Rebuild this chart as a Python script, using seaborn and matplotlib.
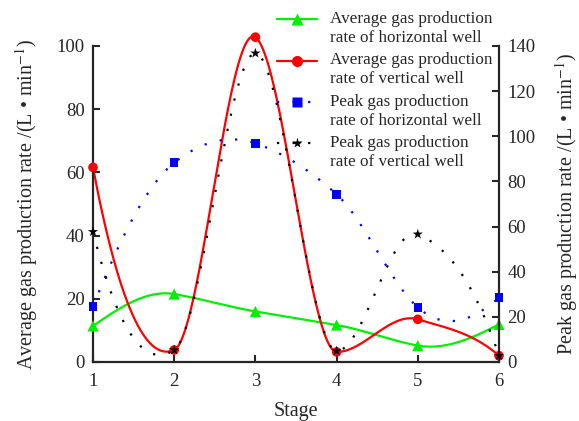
import numpy as np
import pandas as pd
import matplotlib
matplotlib.use("Agg")
import matplotlib.pyplot as plt
from matplotlib.lines import Line2D
from matplotlib.legend_handler import HandlerLine2D
import seaborn as sns

# ---- data ----
stages = [1, 2, 3, 4, 5, 6]
avg_horizontal = [11.4, 21.5, 16.0, 11.7, 5.2, 11.9]
avg_vertical = [61.6, 3.8, 102.8, 3.2, 13.5, 2.0]
peak_horizontal = [24.5, 88.3, 96.9, 74.3, 24.2, 28.5]
peak_vertical = [57.7, 5.3, 136.8, 4.9, 56.6, 2.8]

labels = ["Average gas production\nrate of horizontal well",
          "Average gas production\nrate of vertical well",
          "Peak gas production\nrate of horizontal well",
          "Peak gas production\nrate of vertical well"]

GREEN, RED, BLUE, BLACK = "#00f000", "#ff0000", "#0000ff", "#000000"


def akima(x, y, xs):
    """Akima spline through the points (smooth connecting line)."""
    x = np.asarray(x, float); y = np.asarray(y, float)
    n = len(x)
    m = np.diff(y) / np.diff(x)
    mm = np.empty(n + 3)
    mm[2:-2] = m
    mm[1] = 2 * mm[2] - mm[3]
    mm[0] = 2 * mm[1] - mm[2]
    mm[-2] = 2 * mm[-3] - mm[-4]
    mm[-1] = 2 * mm[-2] - mm[-3]
    dm = np.abs(np.diff(mm))
    f1 = dm[2:]
    f2 = dm[:-2]
    ml = mm[1:-2]
    mr = mm[2:-1]
    den = f1 + f2
    t = np.where(den > 1e-12, (f1 * ml + f2 * mr) / np.where(den > 1e-12, den, 1),
                 (ml + mr) / 2)
    idx = np.clip(np.searchsorted(x, xs, side="right") - 1, 0, n - 2)
    h = x[idx + 1] - x[idx]
    s = (xs - x[idx]) / h
    h00 = 2 * s ** 3 - 3 * s ** 2 + 1
    h10 = s ** 3 - 2 * s ** 2 + s
    h01 = -2 * s ** 3 + 3 * s ** 2
    h11 = s ** 3 - s ** 2
    return h00 * y[idx] + h10 * h * t[idx] + h01 * y[idx + 1] + h11 * h * t[idx + 1]


class RaisedLine(HandlerLine2D):
    def __init__(self, shift=0.0, **kw):
        super().__init__(**kw)
        self.shift = shift

    def create_artists(self, legend, orig_handle, xdescent, ydescent, width,
                       height, fontsize, trans):
        arts = super().create_artists(legend, orig_handle, xdescent, ydescent,
                                      width, height, fontsize, trans)
        for a in arts:
            a.set_ydata(np.asarray(a.get_ydata(), float) + self.shift * fontsize)
        return arts


sns.set_style("ticks")
plt.rcParams["font.family"] = ["Liberation Serif", "DejaVu Serif"]
plt.rcParams["mathtext.fontset"] = "stix"

fig = plt.figure(figsize=(5.79, 4.21), dpi=100)
ax = fig.add_axes([93 / 579, 1 - 362 / 421, (499 - 93) / 579, (362 - 46) / 421])
ax2 = ax.twinx()

xs = np.linspace(1, 6, 600)
curves = pd.DataFrame({
    "x": xs,
    "gh": akima(stages, avg_horizontal, xs),
    "rv": akima(stages, avg_vertical, xs),
    "bh": akima(stages, peak_horizontal, xs),
    "kv": akima(stages, peak_vertical, xs),
})
pts = pd.DataFrame({"stage": stages, "gh": avg_horizontal, "rv": avg_vertical,
                    "bh": peak_horizontal, "kv": peak_vertical})

dot = (0, (1, 6))
LW = 1.6

# peak rates (right axis), dotted
sns.lineplot(data=curves, x="x", y="bh", ax=ax2, color=BLUE, lw=LW, linestyle=dot,
             estimator=None, clip_on=False)
sns.lineplot(data=curves, x="x", y="kv", ax=ax2, color=BLACK, lw=LW, linestyle=dot,
             estimator=None, clip_on=False)
sns.scatterplot(data=pts, x="stage", y="bh", ax=ax2, color=BLUE, marker="s",
                s=38, edgecolor="none", clip_on=False, zorder=5)
sns.scatterplot(data=pts, x="stage", y="kv", ax=ax2, color=BLACK, marker="*",
                s=60, edgecolor="none", clip_on=False, zorder=5)

# average rates (left axis), solid
sns.lineplot(data=curves, x="x", y="gh", ax=ax, color=GREEN, lw=LW,
             estimator=None, clip_on=False)
sns.lineplot(data=curves, x="x", y="rv", ax=ax, color=RED, lw=LW,
             estimator=None, clip_on=False)
sns.scatterplot(data=pts, x="stage", y="gh", ax=ax, color=GREEN, marker="^",
                s=64, edgecolor="none", clip_on=False, zorder=5)
sns.scatterplot(data=pts, x="stage", y="rv", ax=ax, color=RED, marker="o",
                s=48, edgecolor="none", clip_on=False, zorder=5)

ax.set_xlim(1, 6)
ax.set_ylim(0, 100)
ax2.set_ylim(0, 140)
ax.set_xticks(stages)
ax.set_yticks([0, 20, 40, 60, 80, 100])
ax2.set_yticks([0, 20, 40, 60, 80, 100, 120, 140])
ax.set_xlabel("Stage", fontsize=14.5, labelpad=8.5)
ax.set_ylabel("Average gas production rate /(L • min$^{-1}$)", fontsize=14.5, labelpad=12)
ax2.set_ylabel("Peak gas production rate /(L • min$^{-1}$)", fontsize=14.5, labelpad=13)

for a in (ax, ax2):
    a.spines["top"].set_visible(False)
    for s in ("left", "right", "bottom"):
        a.spines[s].set_linewidth(1.6)
    a.tick_params(direction="in", length=5, width=1.5, labelsize=13.5, pad=6)
ax.spines["right"].set_visible(False)
ax2.spines["left"].set_visible(False)
ax2.spines["bottom"].set_visible(False)
ax.tick_params(axis="x", pad=8)

handles = [
    Line2D([], [], color=GREEN, lw=LW, marker="^", ms=8, mec="none"),
    Line2D([], [], color=RED, lw=LW, marker="o", ms=8, mec="none"),
    Line2D([], [], color=BLUE, lw=LW, linestyle=dot, marker="s", ms=6.5, mec="none"),
    Line2D([], [], color=BLACK, lw=LW, linestyle=dot, marker="*", ms=8, mec="none"),
]
leg = fig.legend(handles, labels, loc="upper left", bbox_to_anchor=(267 / 579, 1 - 1 / 421),
                 frameon=False, fontsize=12.3, handlelength=2.3, handletextpad=0.8,
                 labelspacing=0.36, borderpad=0.1, numpoints=1,
                 handler_map={Line2D: RaisedLine(shift=0.55)})
for txt in leg.get_texts():
    txt.set_linespacing(1.25)

fig.savefig("out.png", dpi=100)
